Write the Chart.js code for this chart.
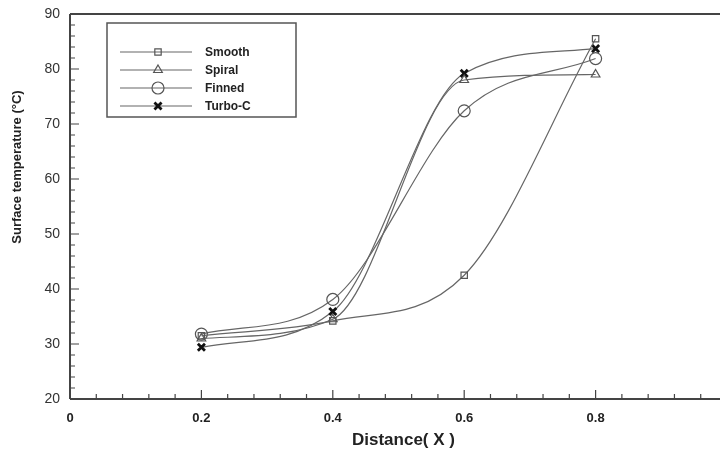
<!DOCTYPE html>
<html><head><meta charset="utf-8">
<script src="https://cdn.jsdelivr.net/npm/chart.js@4.4.0/dist/chart.umd.min.js"></script>
<style>html,body{margin:0;padding:0;background:#fff;overflow:hidden}#wrap{width:720px;height:453px;overflow:hidden}</style>
</head><body><div id="wrap"><canvas id="c" width="760" height="453"></canvas></div>
<script>
const distances = [0.2, 0.4, 0.6, 0.8];
const smooth = [31.5, 34.2, 42.5, 85.5];
const spiral = [31.0, 34.5, 78.0, 79.0];
const finned = [31.8, 38.1, 72.4, 81.9];
const turboC = [29.4, 35.9, 79.2, 83.7];
const seriesNames = ['Smooth', 'Spiral', 'Finned', 'Turbo-C'];
const xTicks = [0, 0.2, 0.4, 0.6, 0.8, 1];
const yTicks = [20, 30, 40, 50, 60, 70, 80, 90];
const xTitle = 'Distance( X )';
const yTitle = 'Surface temperature (\u00B0C)';

const styles = [
  {pointStyle:'rect', radius:4.5, bw:1.2, color:'#555'},
  {pointStyle:'triangle', radius:5, bw:1.2, color:'#555'},
  {pointStyle:'circle', radius:6, bw:1.2, color:'#555'},
  {pointStyle:'crossRot', radius:5, bw:2.8, color:'#111'}
];
const allVals = [smooth, spiral, finned, turboC];

const datasets = allVals.map((vals, i) => ({
  label: seriesNames[i],
  data: distances.map((x, j) => ({x: x, y: vals[j]})),
  borderColor: '#666',
  borderWidth: 1.2,
  cubicInterpolationMode: 'monotone',
  pointStyle: styles[i].pointStyle,
  pointRadius: styles[i].radius,
  pointBorderWidth: styles[i].bw,
  pointBorderColor: styles[i].color,
  pointBackgroundColor: 'rgba(255,255,255,0)',
  fill: false
}));

const decor = {
  id: 'decor',
  afterDraw(chart) {
    const ctx = chart.ctx, xs = chart.scales.x, ys = chart.scales.y, a = chart.chartArea;
    ctx.save();
    ctx.strokeStyle = '#444';
    ctx.lineWidth = 2;
    ctx.beginPath();
    ctx.moveTo(a.left, a.top); ctx.lineTo(a.right, a.top);
    ctx.moveTo(a.left, a.top); ctx.lineTo(a.left, a.bottom);
    ctx.moveTo(a.left, a.bottom); ctx.lineTo(a.right, a.bottom);
    ctx.stroke();
    ctx.lineWidth = 1.2;
    ctx.beginPath();
    for (let k = 0; k <= 25; k++) {
      const v = k * 0.04;
      const px = xs.getPixelForValue(v);
      const major = k % 5 === 0;
      ctx.moveTo(px, a.bottom); ctx.lineTo(px, a.bottom - (major ? 9 : 5));
    }
    for (let v = 20; v <= 90; v += 2) {
      const py = ys.getPixelForValue(v);
      const major = v % 10 === 0;
      ctx.moveTo(a.left, py); ctx.lineTo(a.left + (major ? 9 : 5), py);
    }
    ctx.stroke();
    ctx.fillStyle = '#222';
    ctx.font = 'bold 17px "Liberation Sans", Arial, sans-serif';
    ctx.textAlign = 'left'; ctx.textBaseline = 'middle';
    ctx.fillText(xTitle, 352, 440);
    ctx.save();
    ctx.translate(17, 167);
    ctx.rotate(-Math.PI/2);
    ctx.textAlign = 'center';
    ctx.font = 'bold 13px "Liberation Sans", Arial, sans-serif';
    ctx.fillText(yTitle, 0, 0);
    ctx.restore();
    ctx.lineWidth = 1.5; ctx.strokeStyle = '#555';
    ctx.strokeRect(107, 23, 189, 94);
    const rows = [52, 70, 88, 106];
    ctx.font = 'bold 12px "Liberation Sans", Arial, sans-serif';
    ctx.textAlign = 'left';
    seriesNames.forEach((name, i) => {
      const y = rows[i];
      ctx.strokeStyle = '#666'; ctx.lineWidth = 1.2;
      ctx.beginPath(); ctx.moveTo(120, y); ctx.lineTo(192, y); ctx.stroke();
      ctx.strokeStyle = styles[i].color; ctx.lineWidth = styles[i].bw;
      ctx.fillStyle = 'rgba(255,255,255,0)';
      Chart.helpers.drawPoint(ctx, {pointStyle: styles[i].pointStyle, radius: styles[i].radius, borderWidth: styles[i].bw}, 158, y);
      ctx.fillStyle = '#222';
      ctx.fillText(name, 205, y + 1);
    });
    ctx.restore();
  }
};

new Chart(document.getElementById('c'), {
  type: 'line',
  data: {datasets},
  options: {
    responsive: false,
    animation: false,
    layout: {padding: {top: 14, right: 33, left: 0, bottom: 0}},
    plugins: {legend: {display: false}, tooltip: {enabled: false}},
    scales: {
      x: {
        type: 'linear', min: 0, max: 1,
        afterBuildTicks: s => { s.ticks = xTicks.map(v => ({value: v})); },
        afterFit: s => { s.height = 54; s.paddingLeft = 0; s.paddingRight = 0; },
        grid: {display: false},
        border: {display: false},
        ticks: {
          padding: 4,
          maxRotation: 0,
          color: '#222',
          font: {family: '"Liberation Sans", Arial, sans-serif', size: 13, weight: 'bold'},
          callback: v => v === 0 ? '0' : (v === 1 ? '1' : v.toFixed(1))
        }
      },
      y: {
        type: 'linear', min: 20, max: 90,
        afterBuildTicks: s => { s.ticks = yTicks.map(v => ({value: v})); },
        afterFit: s => { s.width = 70; s.paddingTop = 0; s.paddingBottom = 0; },
        grid: {display: false},
        border: {display: false},
        ticks: {
          padding: 2,
          color: '#333',
          font: {family: '"Liberation Sans", Arial, sans-serif', size: 14},
          callback: v => String(v)
        }
      }
    }
  },
  plugins: [decor]
});
</script>
</body></html>
